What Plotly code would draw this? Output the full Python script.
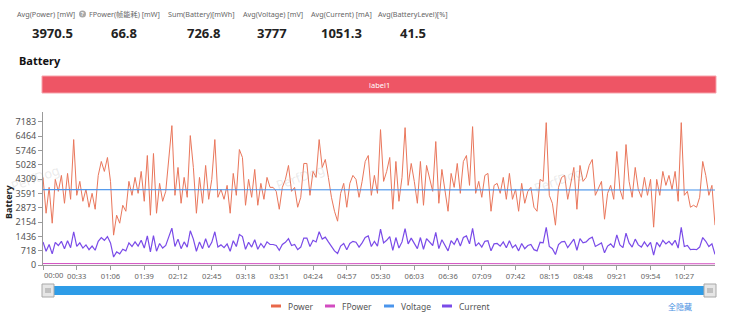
import plotly.graph_objects as go

W, H = 730, 323


def fx(x):
    return x / W


def fy(y):
    return 1 - y / H


# ---------------- data ----------------
times = ["%02d:%02d" % divmod(3 * i, 60) for i in range(220)]

power = [
    4400, 2600, 3900, 2100, 4300, 3700, 4500, 3100, 4600, 3300,
    6300, 3500, 4200, 3200, 3800, 2900, 3600, 2800, 4500, 5200,
    4700, 5400, 4200, 1500, 2500, 2100, 3000, 2700, 4200, 3500,
    4400, 3600, 4700, 3200, 5500, 2500, 5600, 2600, 4100, 3200,
    3700, 5200, 7000, 3500, 4900, 3100, 4400, 3400, 6500, 4900,
    2600, 4400, 3100, 5000, 3300, 4300, 6300, 3400, 3800, 3300,
    4000, 2600, 4600, 3500, 5800, 5400, 3000, 4300, 3400, 4800,
    3000, 4100, 3300, 4400, 3900, 3900, 3700, 2800, 3900, 4300,
    5000, 3700, 3900, 2900, 3400, 5100, 5100, 3500, 4700, 4400,
    6300, 4900, 5300, 4400, 3400, 2700, 2200, 3600, 4100, 2900,
    4100, 4500, 4300, 3400, 4200, 5200, 5500, 3500, 4500, 3600,
    6800, 4200, 4700, 5400, 2800, 5200, 3200, 4400, 6900, 4000,
    5100, 4200, 3100, 5200, 3000, 5000, 4300, 3700, 6200, 3100,
    4800, 3700, 2700, 4600, 3900, 5100, 3600, 5200, 5500, 4000,
    6950, 3600, 4200, 3400, 4500, 4600, 2700, 4000, 4100, 3600,
    4400, 3300, 4600, 3300, 3800, 2700, 4100, 3100, 3700, 3900,
    2900, 2700, 4300, 4200, 7150, 3500, 3100, 2000, 3900, 4400,
    4500, 3300, 4200, 4900, 2800, 5000, 4200, 4400, 5000, 5300,
    3500, 3900, 4200, 2300, 3600, 4000, 3300, 5700, 3800, 3300,
    6050, 4200, 3400, 4900, 3800, 3400, 4400, 3500, 4300, 1900,
    4300, 3500, 4700, 4000, 4500, 3800, 4700, 3200, 7150, 3500,
    3700, 2900, 3000, 2900, 3400, 5200, 4500, 3500, 4000, 2000,
]

current = [
    1160, 690, 1030, 560, 1140, 980, 1190, 820, 1220, 870,
    1670, 930, 1110, 850, 1010, 770, 950, 740, 1190, 1380,
    1240, 1430, 1110, 400, 660, 560, 790, 710, 1110, 930,
    1160, 950, 1240, 850, 1460, 660, 1480, 690, 1080, 850,
    980, 1380, 1850, 930, 1300, 820, 1160, 900, 1720, 1300,
    690, 1160, 820, 1320, 870, 1140, 1670, 900, 1010, 870,
    1060, 690, 1220, 930, 1530, 1430, 790, 1140, 900, 1270,
    790, 1080, 870, 1160, 1030, 1030, 980, 740, 1030, 1140,
    1320, 980, 1030, 770, 900, 1350, 1350, 930, 1240, 1160,
    1670, 1300, 1400, 1160, 900, 710, 580, 950, 1080, 770,
    1080, 1190, 1140, 900, 1110, 1380, 1460, 930, 1190, 950,
    1800, 1110, 1240, 1430, 740, 1380, 850, 1160, 1830, 1060,
    1350, 1110, 820, 1380, 790, 1320, 1140, 980, 1640, 820,
    1270, 980, 710, 1220, 1030, 1350, 950, 1380, 1460, 1060,
    1840, 950, 1110, 900, 1190, 1220, 710, 1060, 1080, 950,
    1160, 870, 1220, 870, 1010, 710, 1080, 820, 980, 1030,
    770, 710, 1140, 1110, 1890, 930, 820, 530, 1030, 1160,
    1190, 870, 1110, 1300, 740, 1320, 1110, 1160, 1320, 1400,
    930, 1030, 1110, 610, 950, 1060, 870, 1510, 1010, 870,
    1600, 1110, 900, 1300, 1010, 900, 1160, 930, 1140, 500,
    1140, 930, 1240, 1060, 1190, 1010, 1240, 850, 1890, 930,
    980, 770, 790, 770, 900, 1380, 1190, 930, 1060, 530,
]

flat_times = times[::11] + [times[-1]]
voltage = [3786, 3785, 3784, 3783, 3782, 3781, 3780, 3779, 3778, 3777, 3777,
           3776, 3775, 3774, 3773, 3772, 3771, 3770, 3769, 3768, 3768]
fpower = [72, 68, 75, 70, 64, 66, 71, 62, 69, 65, 73,
          60, 67, 70, 63, 68, 66, 71, 64, 69, 62]

y_ticks = [0, 718, 1436, 2154, 2873, 3591, 4309, 5028, 5746, 6464, 7183]

stat_labels = ["Avg(Power) [mW]", "FPower(帧能耗) [mW]", "Sum(Battery)[mWh]",
               "Avg(Voltage) [mV]", "Avg(Current) [mA]", "Avg(BatteryLevel)[%]"]
stat_values = ["3970.5", "66.8", "726.8", "3777", "1051.3", "41.5"]

series_names = ["Power", "FPower", "Voltage", "Current"]
series_colors = ["#E8684A", "#D24BC0", "#4A95EC", "#7A4BE8"]

FONT = "Noto Sans, Noto Sans CJK SC, sans-serif"


def ann(x, y, text, size, color, xanchor="center", yanchor="middle", **kw):
    d = dict(x=fx(x), y=fy(y), xref="paper", yref="paper", text=text, showarrow=False,
             xanchor=xanchor, yanchor=yanchor,
             font=dict(size=size, color=color, family=kw.pop("family", FONT)))
    d.update(kw)
    return d


# ---------------- figure ----------------
fig = go.Figure()
fig.add_trace(go.Scatter(x=times, y=power, mode="lines", name="Power", opacity=0.9,
                         line=dict(color=series_colors[0], width=1)))
fig.add_trace(go.Scatter(x=flat_times, y=fpower, mode="lines", name="FPower",
                         line=dict(color=series_colors[1], width=1)))
fig.add_trace(go.Scatter(x=flat_times, y=voltage, mode="lines", name="Voltage",
                         line=dict(color=series_colors[2], width=1.2)))
fig.add_trace(go.Scatter(x=times, y=current, mode="lines", name="Current",
                         line=dict(color=series_colors[3], width=1.2)))

tickvals = times[::11]
ticktext = [""] + tickvals[1:]

shapes = []
annotations = []

# stats row
label_x = [46, 124, 202, 273, 341, 413]
value_x = [52, 124, 203, 272, 341, 413]
for lx, vx, lab, val in zip(label_x, value_x, stat_labels, stat_values):
    annotations.append(ann(lx, 14, lab, 7.2, "#666"))
    annotations.append(ann(vx, 33, "<b>%s</b>" % val, 13, "#222"))
# question mark icon
shapes.append(dict(type="circle", xref="paper", yref="paper", x0=fx(79), x1=fx(86),
                   y0=fy(17.5), y1=fy(10.5), fillcolor="#a9a9a9", line=dict(width=0)))
annotations.append(ann(82.5, 14, "<b>?</b>", 5.5, "white"))

# section title
annotations.append(ann(17, 60, "<b>Battery</b>", 11, "#111", xanchor="left"))

# label bar
shapes.append(dict(type="rect", xref="paper", yref="paper", x0=fx(42), x1=fx(716),
                   y0=fy(93), y1=fy(76), fillcolor="#EE5565",
                   line=dict(color="#F7A3AB", width=1)))
annotations.append(ann(379, 84.5, "label1", 7.5, "white"))

# y-axis title
annotations.append(ann(8, 202, "<b>Battery</b>", 9, "#222", textangle=-90))

# first x tick label (left aligned, like the original)
annotations.append(ann(42, 275, tickvals[0], 7.6, "#666", xanchor="left"))

# watermarks
for wx, wy in [(35, 178), (300, 177), (558, 180)]:
    annotations.append(ann(wx, wy, "PerfDog", 13, "rgba(150,150,150,0.2)", textangle=-20))

# data zoom slider (decorative)
shapes.append(dict(type="rect", xref="paper", yref="paper", x0=fx(48), x1=fx(710),
                   y0=fy(295), y1=fy(286), fillcolor="#2E9CE7", line=dict(width=0)))
for hx in (42, 704):
    shapes.append(dict(type="rect", xref="paper", yref="paper", x0=fx(hx), x1=fx(hx + 12),
                       y0=fy(297), y1=fy(284), fillcolor="#E6E6E6",
                       line=dict(color="#A8A8A8", width=1)))
    for k in (-2, 0, 2):
        shapes.append(dict(type="line", xref="paper", yref="paper",
                           x0=fx(hx + 6 + k), x1=fx(hx + 6 + k), y0=fy(293), y1=fy(288),
                           line=dict(color="#888", width=0.8)))

# legend (manual)
leg_icon_x = [271, 325, 384, 442]
for lx, name, col in zip(leg_icon_x, series_names, series_colors):
    shapes.append(dict(type="rect", xref="paper", yref="paper", x0=fx(lx), x1=fx(lx + 10),
                       y0=fy(307.5), y1=fy(304.5), fillcolor=col, line=dict(width=0)))
    annotations.append(ann(lx + 15, 306, name, 8.5, "#555", xanchor="left"))
annotations.append(ann(680, 306, "全隐藏", 8, "#4A90E2"))

fig.update_layout(
    width=W, height=H,
    margin=dict(l=0, r=0, t=0, b=0),
    paper_bgcolor="white", plot_bgcolor="white",
    showlegend=False,
    font=dict(family=FONT, color="#666"),
    shapes=shapes, annotations=annotations,
    xaxis=dict(domain=[fx(43), fx(715)], type="category", range=[0, len(times) - 1],
               tickmode="array", tickvals=tickvals, ticktext=ticktext,
               showline=True, linecolor="#9a9a9a", linewidth=1,
               ticks="outside", ticklen=4, tickcolor="#9a9a9a",
               tickfont=dict(size=7.6, color="#666"), tickangle=0,
               showgrid=False, zeroline=False, automargin=False, fixedrange=True),
    yaxis=dict(domain=[fy(265), fy(112)], range=[0, 7685],
               tickmode="array", tickvals=y_ticks, ticktext=[str(v) for v in y_ticks],
               showline=True, linecolor="#9a9a9a", linewidth=1,
               ticks="outside", ticklen=4, tickcolor="#9a9a9a",
               tickfont=dict(size=9, color="#555"),
               showgrid=False, zeroline=False, automargin=False, fixedrange=True),
)

fig.write_html("out.html")
